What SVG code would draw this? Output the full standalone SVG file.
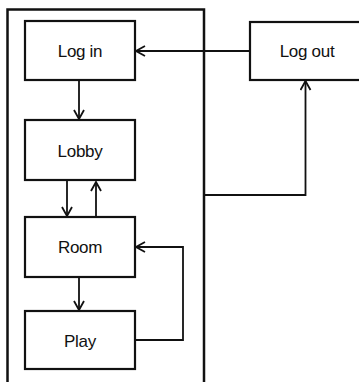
<svg xmlns="http://www.w3.org/2000/svg" width="359" height="382" viewBox="0 0 359 382">
  <style>
    .box { fill: #ffffff; stroke: #111111; stroke-width: 2.2; }
    .frame { fill: none; stroke: #111111; stroke-width: 2.5; }
    .wire { fill: none; stroke: #111111; stroke-width: 1.8; }
    .label { font-family: "Liberation Sans", Arial, sans-serif; font-size: 17px; fill: #111111; text-anchor: middle; letter-spacing: -0.3px; }
  </style>
  <defs>
    <marker id="arrow" viewBox="0 0 12 12" refX="11" refY="6" markerWidth="12" markerHeight="12" markerUnits="userSpaceOnUse" orient="auto">
      <path d="M2,1 L11,6 L2,11" fill="none" stroke="#111111" stroke-width="1.8"/>
    </marker>
  </defs>
  <rect width="359" height="382" fill="#ffffff"/>

  <!-- session container, open at the bottom -->
  <g id="session">
    <path class="frame" d="M7.5,390 V9.5 H204 V390"/>
  </g>

  <g id="connectors">
    <path class="wire" d="M250,51 H136" marker-end="url(#arrow)"/>
    <path class="wire" d="M79,80 V119" marker-end="url(#arrow)"/>
    <path class="wire" d="M67,181 V216" marker-end="url(#arrow)"/>
    <path class="wire" d="M96,217 V182" marker-end="url(#arrow)"/>
    <path class="wire" d="M79,277 V310" marker-end="url(#arrow)"/>
    <path class="wire" d="M135,340 H183 V247 H136" marker-end="url(#arrow)"/>
    <path class="wire" d="M204,195 H305.5 V81" marker-end="url(#arrow)"/>
  </g>

  <g id="login">
    <rect class="box" x="25" y="21" width="110" height="59"/>
    <text class="label" x="80" y="57">Log in</text>
  </g>
  <g id="lobby">
    <rect class="box" x="25" y="120" width="110" height="60"/>
    <text class="label" x="80" y="157">Lobby</text>
  </g>
  <g id="room">
    <rect class="box" x="25" y="217" width="110" height="60"/>
    <text class="label" x="80" y="253">Room</text>
  </g>
  <g id="play">
    <rect class="box" x="25" y="311" width="110" height="58"/>
    <text class="label" x="80" y="347">Play</text>
  </g>
  <g id="logout">
    <rect class="box" x="250" y="22" width="120" height="58"/>
    <text class="label" x="307" y="57">Log out</text>
  </g>
</svg>
